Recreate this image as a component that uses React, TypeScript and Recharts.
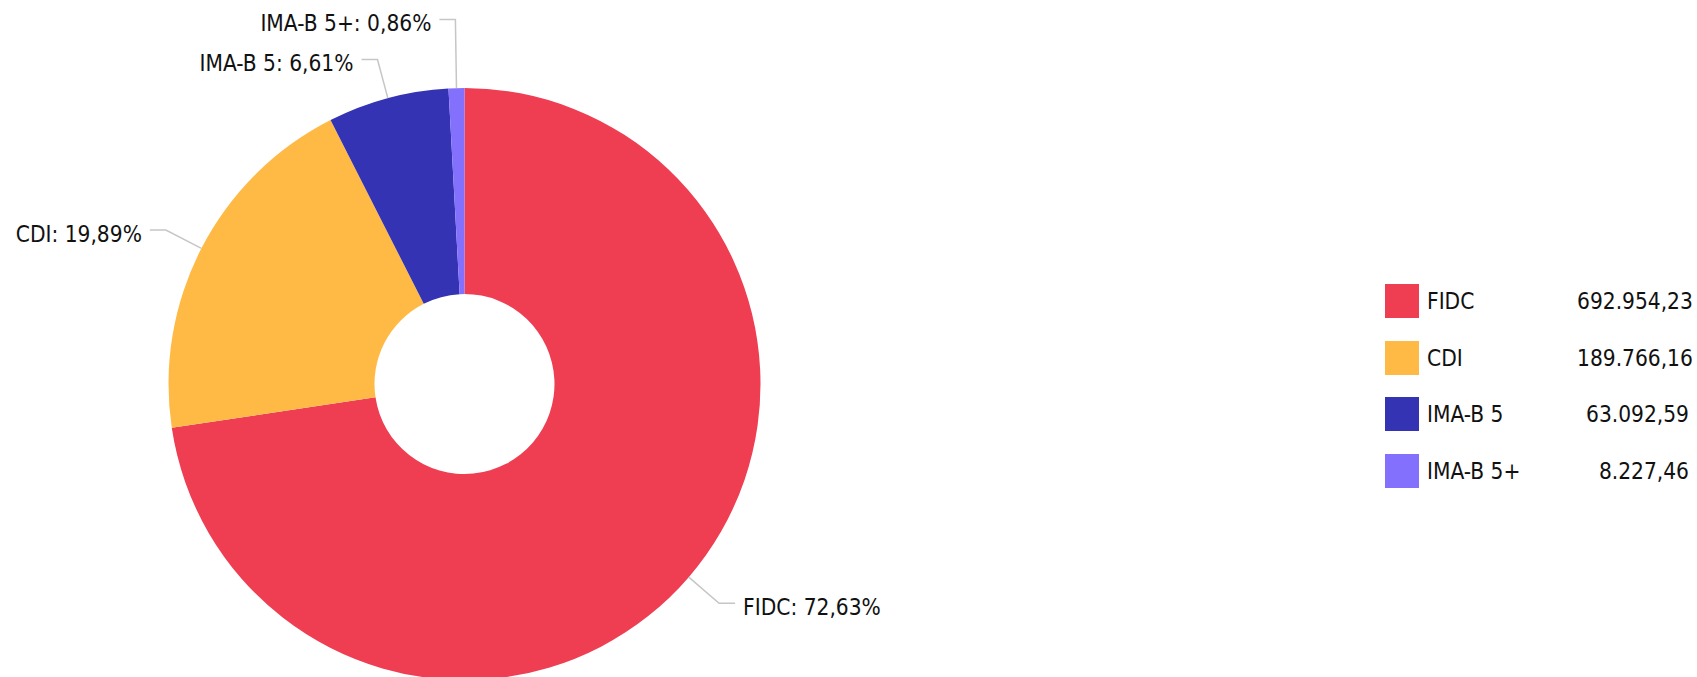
import { PieChart, Pie, Cell, Legend } from 'recharts'

const categories = ['FIDC', 'CDI', 'IMA-B 5', 'IMA-B 5+']
const amounts = [692954.23, 189766.16, 63092.59, 8227.46]
const colors = ['#ef3d52', '#ffba45', '#3333b4', '#8370fd']

const data = categories.map((name, i) => ({ name, value: amounts[i] }))

const FONT = "'DejaVu Sans Condensed', 'DejaVu Sans', sans-serif"
const RAD = Math.PI / 180

const brl = (v: number) =>
  v.toLocaleString('pt-BR', { minimumFractionDigits: 2, maximumFractionDigits: 2 })
const pct = (p: number) => (p * 100).toFixed(2).replace('.', ',') + '%'

// label with a bent leader line; labels on the same side get pushed apart
function makeLabel() {
  const placed: { side: number; y: number }[] = []
  return (props: any) => {
    const { cx, cy, midAngle, outerRadius, percent, index } = props
    const cos = Math.cos(-midAngle * RAD)
    const sin = Math.sin(-midAngle * RAD)
    const x1 = cx + outerRadius * cos
    const y1 = cy + outerRadius * sin
    const x2 = cx + (outerRadius + 40) * cos
    let y2 = cy + (outerRadius + 40) * sin
    const side = cos >= 0 ? 1 : -1
    for (let j = 0; j < index; j++) {
      const p = placed[j]
      if (p && p.side === side && Math.abs(p.y - y2) < 40) {
        y2 = y2 < p.y ? p.y - 40 : p.y + 40
      }
    }
    placed[index] = { side, y: y2 }
    const x3 = x2 + side * 16
    return (
      <g>
        <polyline
          points={`${x1},${y1} ${x2},${y2} ${x3},${y2}`}
          fill="none"
          stroke="#c6c6c6"
          strokeWidth={1.5}
        />
        <text
          x={x3 + side * 8}
          y={y2 + 4}
          textAnchor={side > 0 ? 'start' : 'end'}
          dominantBaseline="central"
          fontFamily={FONT}
          fontSize={22.5}
          fill="#111"
        >
          {`${categories[index]}: ${pct(percent)}`}
        </text>
      </g>
    )
  }
}

function LegendBox() {
  return (
    <div style={{ fontFamily: FONT, fontSize: 22.5, color: '#111' }}>
      {categories.map((c, i) => (
        <div
          key={c}
          style={{ display: 'flex', alignItems: 'center', height: 34, marginBottom: 22.5 }}
        >
          <span style={{ width: 34, height: 34, background: colors[i], flex: 'none' }} />
          <span style={{ marginLeft: 8, width: 150 }}>{c}</span>
          <span style={{ width: 112, textAlign: 'right' }}>{brl(amounts[i])}</span>
        </div>
      ))}
    </div>
  )
}

export default function App() {
  return (
    <div style={{ position: 'absolute', left: 0, top: 0 }}>
      <PieChart width={1697} height={677} margin={{ top: 0, right: 0, bottom: 0, left: 0 }}>
        <Pie
          data={data}
          dataKey="value"
          nameKey="name"
          cx={464.5}
          cy={384}
          innerRadius={90}
          outerRadius={296}
          startAngle={90}
          endAngle={-270}
          stroke="none"
          label={makeLabel()}
          labelLine={false}
          isAnimationActive={false}
        >
          {data.map((d, i) => (
            <Cell key={d.name} fill={colors[i]} />
          ))}
        </Pie>
        <Legend
          layout="vertical"
          align="right"
          verticalAlign="top"
          content={<LegendBox />}
          wrapperStyle={{ left: 1385, top: 284, right: 'auto', bottom: 'auto', width: 310 }}
        />
      </PieChart>
    </div>
  )
}
